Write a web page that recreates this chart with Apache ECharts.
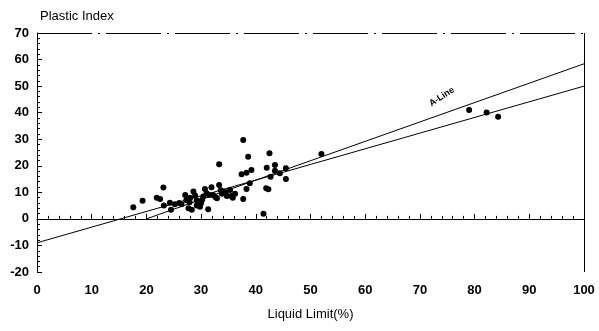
<!DOCTYPE html>
<html><head><meta charset="utf-8">
<script src="https://cdn.jsdelivr.net/npm/echarts@6/dist/echarts.min.js"></script>
<style>html,body{margin:0;padding:0;background:#fff}#c{width:599px;height:331px}</style>
</head><body><div id="c"></div>
<script>
const xTicks = [0,10,20,30,40,50,60,70,80,90,100];
const yTicks = [-20,-10,0,10,20,30,40,50,60,70];
const liquidLimit = [17.6,19.3,21.9,23.1,22.5,23.2,24.3,24.5,26.4,27.1,27.7,28.3,28.6,29.2,29.8,30.4,30.7,31.3,31.9,32.9,33.3,33.3,34.1,34.7,35.3,35.5,32.2,31.0,27.3,29.8,29.2,37.4,37.7,37.7,38.6,38.3,39.2,38.9,38.3,41.4,41.9,42.3,42.0,42.5,42.7,43.5,43.5,44.4,45.5,45.5,52.0,79.0,82.2,84.3,26.0,28.0,30.0,31.5,33.8,34.5,35.8,36.2,25.2,28.9,32.6,30.2,27.9,33.6];
const plasticIndex = [4.4,6.8,8.0,11.8,7.5,5.0,6.1,3.4,5.5,9.0,4.0,3.4,10.3,7.0,4.6,8.4,11.3,3.6,11.9,7.8,12.8,20.6,10.3,8.6,10.9,8.6,9.0,9.7,7.0,6.4,5.0,16.8,29.7,7.5,23.4,17.4,18.4,13.4,11.3,1.9,11.5,11.2,19.3,24.7,15.9,20.3,18.1,17.2,19.1,15.0,24.4,41.0,40.1,38.5,6.0,8.0,6.0,9.0,9.5,10.0,8.0,9.5,5.5,8.8,8.2,7.2,6.3,10.8];
const aLine = [[20,0],[100,58.4]];
const fitLine = [[0,-9],[100,50]];
const refY = {top:70, zero:0};

const pts = liquidLimit.map((x,i)=>[x, plasticIndex[i]]);
const font = 'Liberation Sans, Arial, sans-serif';
const chart = echarts.init(document.getElementById('c'));
chart.setOption({
  animation:false,
  grid:{left:37,right:15,top:33,bottom:59},
  title:{text:'Plastic Index',left:35,top:5,textStyle:{fontFamily:font,fontSize:13,fontWeight:'normal',color:'#000'}},
  xAxis:{type:'value',min:0,max:100,interval:10,
    name:'Liquid Limit(%)',nameLocation:'middle',nameGap:36,
    nameTextStyle:{fontFamily:font,fontSize:13,color:'#000'},
    axisLine:{lineStyle:{color:'#000',width:1}},
    axisTick:{inside:true,length:5,lineStyle:{color:'#000'}},
    minorTick:{show:true,splitNumber:5,length:3,lineStyle:{color:'#000'}},
    axisLabel:{fontFamily:font,fontSize:13,fontWeight:'bold',color:'#000',margin:12},
    splitLine:{show:false}},
  yAxis:{type:'value',min:-20,max:70,interval:10,
    axisLine:{show:true,lineStyle:{color:'#000',width:1}},
    axisTick:{show:true,inside:true,length:5,lineStyle:{color:'#000'}},
    minorTick:{show:true,splitNumber:5,length:3,lineStyle:{color:'#000'}},
    axisLabel:{fontFamily:font,fontSize:13,fontWeight:'bold',color:'#000',margin:8},
    splitLine:{show:false}},
  series:[
    {type:'scatter',data:pts,symbolSize:6,itemStyle:{color:'#000',opacity:1},
     markLine:{silent:true,symbol:'none',label:{show:false},
       data:[
         {yAxis:refY.top,lineStyle:{color:'#000',width:1,opacity:1,type:[55,6,2,6]}},
         {yAxis:refY.zero,lineStyle:{color:'#000',width:1,opacity:1,type:[55,14]}},
         {xAxis:100,lineStyle:{color:'#000',width:1,opacity:1,type:'solid'}}
       ]}},
    {type:'line',data:aLine,symbol:'none',lineStyle:{color:'#000',width:1},
     markPoint:{symbol:'circle',symbolSize:0,data:[{coord:[74,46],label:{show:true,formatter:'A-Line',rotate:33,fontFamily:font,fontSize:9,fontWeight:'bold',color:'#000'}}]}},
    {type:'line',data:fitLine,symbol:'none',lineStyle:{color:'#000',width:1}}
  ]
});
</script></body></html>
